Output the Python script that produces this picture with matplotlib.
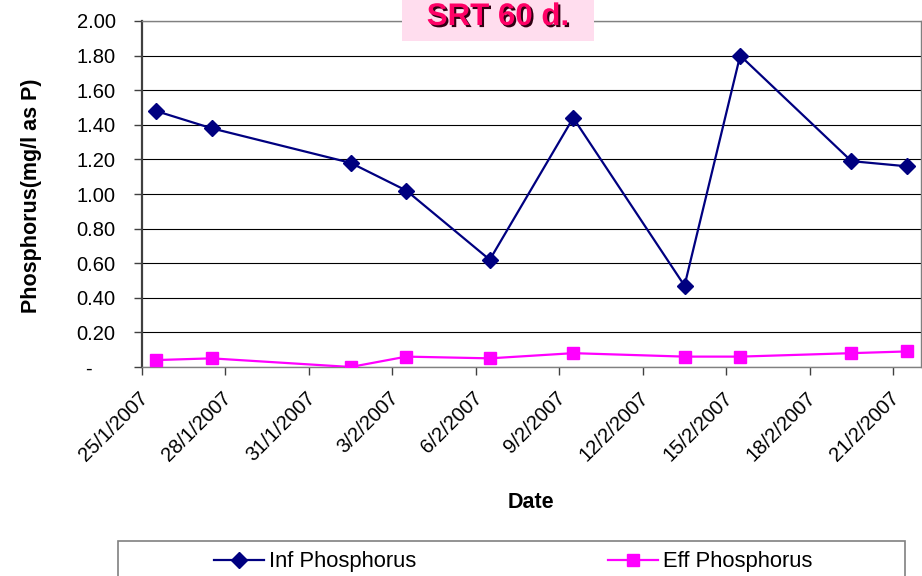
import datetime as dt

import matplotlib
matplotlib.use("Agg")
import matplotlib.pyplot as plt
import matplotlib.patheffects as pe
from matplotlib.patches import Rectangle
from matplotlib.transforms import ScaledTranslation

plt.rcParams['font.family'] = ['Liberation Sans', 'DejaVu Sans']

# sampling dates and phosphorus readings (mg/l as P)
dates = ['2007-01-25', '2007-01-27', '2007-02-01', '2007-02-03', '2007-02-06',
         '2007-02-09', '2007-02-13', '2007-02-15', '2007-02-19', '2007-02-21']
inf_phosphorus = [1.48, 1.38, 1.18, 1.02, 0.62, 1.44, 0.47, 1.80, 1.19, 1.16]
eff_phosphorus = [0.04, 0.05, 0.00, 0.06, 0.05, 0.08, 0.06, 0.06, 0.08, 0.09]

y_ticks = [0.0, 0.2, 0.4, 0.6, 0.8, 1.0, 1.2, 1.4, 1.6, 1.8, 2.0]
x_start = dt.datetime(2007, 1, 25)
x_end = dt.datetime(2007, 2, 22)
x_ticks = [x_start + dt.timedelta(days=3 * i) for i in range(10)]

# excel puts each point in the middle of its day
days = [dt.datetime.strptime(d, '%Y-%m-%d') + dt.timedelta(hours=12) for d in dates]

W, H = 922, 576
fig = plt.figure(figsize=(W / 100, H / 100), dpi=100)
ax = fig.add_axes([142 / W, 1 - 367 / H, (921 - 142) / W, (367 - 21) / H])

ax.plot(days, inf_phosphorus, color='#000080', lw=1.6, marker='D', ms=8,
        label='Inf Phosphorus', zorder=3)
ax.plot(days, eff_phosphorus, color='#FF00FF', lw=1.6, marker='s', ms=8,
        label='Eff Phosphorus', zorder=3)

ax.set_xlim(x_start, x_end)
ax.set_ylim(0, 2.0)

ax.set_yticks(y_ticks, labels=['-' if v == 0 else f'{v:.2f}' for v in y_ticks])
ax.set_xticks(x_ticks, labels=[f'{d.day}/{d.month}/{d.year}' for d in x_ticks])
ax.tick_params(axis='y', labelsize=14.5, length=6, width=1, color='#404040', pad=13)
ax.tick_params(axis='x', labelsize=14.5, length=6, width=1, color='#404040', pad=14)
shift = ScaledTranslation(0.03, 0, fig.dpi_scale_trans)
for lab in ax.get_xticklabels():
    lab.set_rotation(45)
    lab.set_ha('right')
    lab.set_va('center')
    lab.set_rotation_mode('anchor')
    lab.set_transform(lab.get_transform() + shift)

# accounting style dash for zero sits left of the numbers
zero_lab = ax.get_yticklabels()[0]
zero_lab.set_transform(zero_lab.get_transform() +
                       ScaledTranslation(-0.24, 0, fig.dpi_scale_trans))

ax.yaxis.grid(True, color='black', lw=0.8)
ax.set_axisbelow(True)
for side in ['top', 'right', 'bottom']:
    ax.spines[side].set_color('#808080')
    ax.spines[side].set_linewidth(1.0)
ax.spines['left'].set_color('#404040')
ax.spines['left'].set_linewidth(1.6)

ax.set_ylabel('Phosphorus(mg/l as P)', fontsize=15.5, fontweight='bold')
ax.yaxis.set_label_coords(42 / W, 1 - 196 / H, transform=fig.transFigure)
fig.text(531 / W, 1 - 503 / H, 'Date', fontsize=15.5, fontweight='bold',
         ha='center', va='center')

# title in a pink box
fig.add_artist(Rectangle((402 / W, 1 - 41 / H), 192 / W, 41 / H,
                         transform=fig.transFigure, facecolor='#FFDDEE',
                         edgecolor='none', zorder=5))
fig.text(498 / W, 1 - 25 / H, 'SRT 60 d.', fontsize=22.5, fontweight='bold',
         color='#FF0066', ha='center', va='baseline', zorder=6,
         path_effects=[pe.withSimplePatchShadow(offset=(1.5, -1.5),
                                                shadow_rgbFace='#300012',
                                                alpha=1.0)])

# legend frame running off the bottom edge
fig.add_artist(Rectangle((118 / W, -0.05), (905 - 118) / W, 1 - 541 / H + 0.05,
                         transform=fig.transFigure, facecolor='white',
                         edgecolor='#808080', lw=1.2, zorder=1))
handles, labels = ax.get_legend_handles_labels()
for h, lab, x0 in zip(handles, labels, [214, 608]):
    fig.legend([h], [lab], loc='center left', bbox_to_anchor=(x0 / W, 1 - 562 / H),
               frameon=False, fontsize=15.8, handlelength=2.3, handletextpad=0.2,
               borderpad=0, borderaxespad=0)

fig.savefig('out.png', dpi=100)
